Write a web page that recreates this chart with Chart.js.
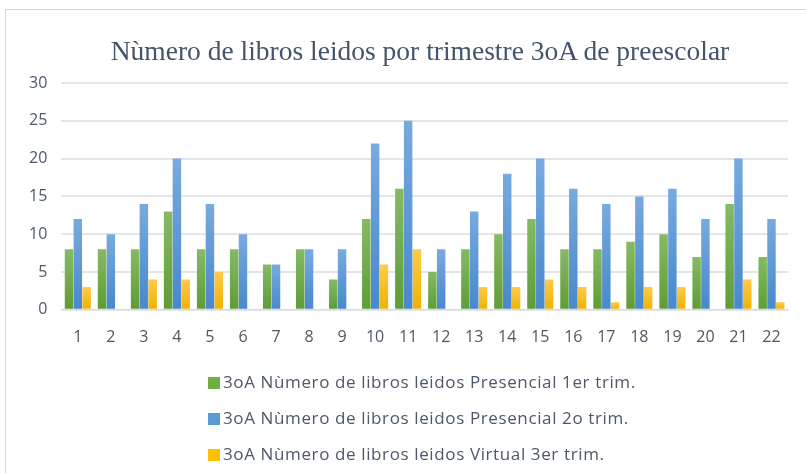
<!DOCTYPE html>
<html>
<head>
<meta charset="utf-8">
<script src="https://cdn.jsdelivr.net/npm/chart.js@4"></script>
<style>
  html, body { margin: 0; padding: 0; background: #fff; }
  #wrap { position: relative; width: 806px; height: 473px; overflow: hidden; }
  #frame { position: absolute; left: 5px; top: 9px; width: 820px; height: 480px; border: 1px solid #d9d9d9; box-sizing: border-box; }
  canvas { position: absolute; left: 0; top: 0; }
  #title { position: absolute; left: 20px; width: 800px; top: 33px; text-align: center; white-space: nowrap;
           font-family: "Liberation Serif", "DejaVu Serif", serif; font-size: 27.5px; color: #44546a; line-height: 36px; }
  #legend { position: absolute; left: 208px; top: 364px; margin: 0; padding: 0; list-style: none;
            font-family: "Open Sans", "Liberation Sans", sans-serif; font-size: 17px; letter-spacing: 0.62px; color: #4d5868; }
  #legend li { height: 36px; line-height: 36px; white-space: nowrap; }
  #legend span.box { display: inline-block; width: 12px; height: 12px; margin-right: 3px; vertical-align: -1px; }
</style>
</head>
<body>
<div id="wrap">
  <div id="frame"></div>
  <canvas id="chart" width="806" height="473"></canvas>
  <div id="title"></div>
  <ul id="legend"></ul>
</div>
<script>
// --- Data ---
const categories = ['1','2','3','4','5','6','7','8','9','10','11','12','13','14','15','16','17','18','19','20','21','22'];
const presencial1 = [8, 8, 8, 13, 8, 8, 6, 8, 4, 12, 16, 5, 8, 10, 12, 8, 8, 9, 10, 7, 14, 7];
const presencial2 = [12, 10, 14, 20, 14, 10, 6, 8, 8, 22, 25, 8, 13, 18, 20, 16, 14, 15, 16, 12, 20, 12];
const virtual3 = [3, 0, 4, 4, 5, 0, 0, 0, 0, 6, 8, 0, 3, 3, 4, 3, 1, 3, 3, 0, 4, 1];
const seriesNames = [
  '3oA Nùmero de libros leidos Presencial 1er trim.',
  '3oA Nùmero de libros leidos Presencial 2o trim.',
  '3oA Nùmero de libros leidos Virtual 3er trim.'
];
const yTicks = [0, 5, 10, 15, 20, 25, 30];
const chartTitle = 'Nùmero de libros leidos por trimestre 3oA de preescolar';

// --- Colours ---
const COLORS = [
  { solid: '#70ad47', top: '#86ba66', bottom: '#5e9c35' },
  { solid: '#5b9bd5', top: '#78aadf', bottom: '#4788cc' },
  { solid: '#ffc000', top: '#ffcb4a', bottom: '#eeb200' }
];
const TEXT = '#4d5868';
const TICK_FONT = { family: '"Open Sans", "Liberation Sans", sans-serif', size: 16 };

// vertical gradient per bar, like the Office fill
const barFill = (c) => (ctx) => {
  const chart = ctx.chart;
  const y = chart.scales && chart.scales.y;
  if (!chart.chartArea || !y || ctx.raw === undefined) return c.solid;
  const top = y.getPixelForValue(ctx.raw);
  const bottom = y.getPixelForValue(0);
  if (bottom - top < 1) return c.solid;
  const g = chart.ctx.createLinearGradient(0, top, 0, bottom);
  g.addColorStop(0, c.top);
  g.addColorStop(1, c.bottom);
  return g;
};

// title and legend as html, so the title can sit off-centre and the legend rows stay left-aligned
const htmlLegend = {
  id: 'htmlLegend',
  afterUpdate(chart) {
    document.getElementById('title').textContent = chartTitle;
    const ul = document.getElementById('legend');
    ul.innerHTML = '';
    chart.data.datasets.forEach((ds, i) => {
      const li = document.createElement('li');
      const box = document.createElement('span');
      box.className = 'box';
      box.style.background = COLORS[i].solid;
      li.appendChild(box);
      li.appendChild(document.createTextNode(ds.label));
      ul.appendChild(li);
    });
  }
};

const datasets = [presencial1, presencial2, virtual3].map((data, i) => ({
  label: seriesNames[i],
  data: data,
  backgroundColor: barFill(COLORS[i]),
  borderWidth: 0,
  barPercentage: 0.96,
  categoryPercentage: 0.8
}));

new Chart(document.getElementById('chart'), {
  type: 'bar',
  data: { labels: categories, datasets: datasets },
  plugins: [htmlLegend],
  options: {
    responsive: false,
    animation: false,
    layout: { padding: { left: 15, right: 18, top: 83, bottom: 116 } },
    plugins: {
      title: { display: false },
      legend: { display: false },
      tooltip: { enabled: false }
    },
    scales: {
      x: {
        grid: { display: false },
        border: { color: '#d9d9d9', width: 1 },
        ticks: {
          color: TEXT,
          font: TICK_FONT,
          maxRotation: 0,
          autoSkip: false,
          padding: 10
        }
      },
      y: {
        min: 0,
        max: 30,
        border: { display: false },
        grid: { color: '#e3e5e9', lineWidth: 2, drawTicks: false },
        afterBuildTicks: (axis) => { axis.ticks = yTicks.map(v => ({ value: v })); },
        ticks: {
          color: TEXT,
          font: TICK_FONT,
          padding: 14
        }
      }
    }
  }
});
</script>
</body>
</html>
